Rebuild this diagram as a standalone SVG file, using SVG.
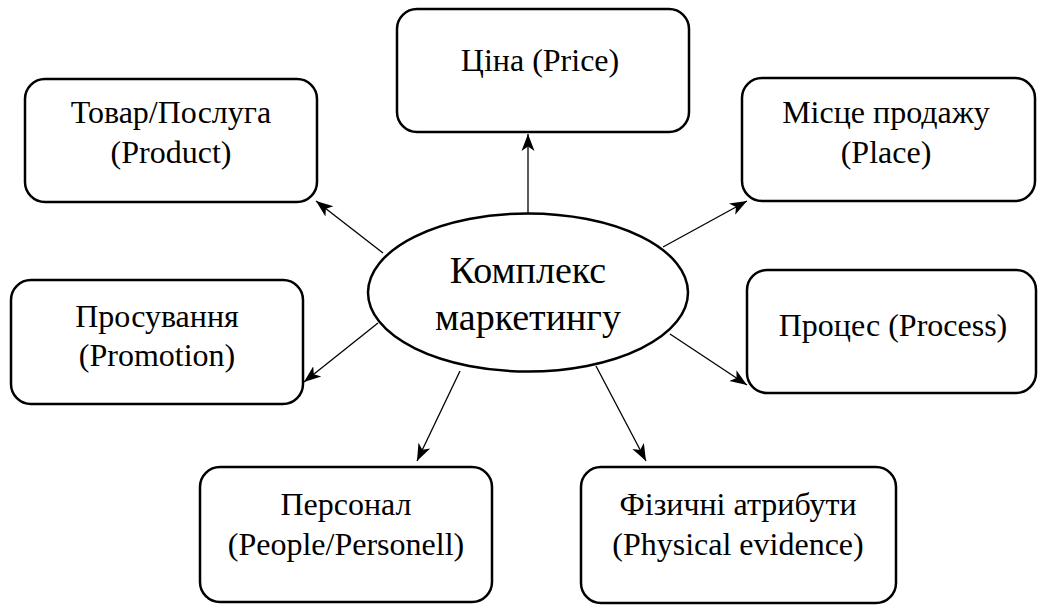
<svg xmlns="http://www.w3.org/2000/svg" width="1039" height="605" viewBox="0 0 1039 605">
<defs>
<marker id="ah" markerUnits="userSpaceOnUse" markerWidth="18" markerHeight="16" viewBox="0 0 18 16" refX="17" refY="8" orient="auto">
<path d="M0,1.5 L17,8 L0,14.5 L4.5,8 Z" fill="#000"/>
</marker>
</defs>
<rect width="1039" height="605" fill="#fff"/>
<g id="connectors" stroke="#000" stroke-width="1.3" fill="none" marker-end="url(#ah)">
<line x1="528" y1="213" x2="528" y2="134"/>
<line x1="383" y1="253" x2="316" y2="201"/>
<line x1="663" y1="247" x2="747" y2="201"/>
<line x1="378" y1="323" x2="304" y2="382"/>
<line x1="670" y1="334" x2="747" y2="385"/>
<line x1="460" y1="371" x2="417" y2="461"/>
<line x1="596" y1="366" x2="646" y2="461"/>
</g>
<g id="nodes" font-family="Liberation Serif" text-anchor="middle" fill="#000">
<g id="center">
<ellipse cx="528" cy="292.5" rx="160" ry="79" fill="#fff" stroke="#000" stroke-width="2.5"/>
<text x="528" y="283" font-size="38">Комплекс</text>
<text x="528" y="330" font-size="38">маркетингу</text>
</g>
<g font-size="32">
<g id="price">
<rect x="397" y="9" width="292" height="123" rx="20" fill="#fff" stroke="#000" stroke-width="2.5"/>
<text x="540" y="71">Ціна (Price)</text>
</g>
<g id="product">
<rect x="25" y="79" width="292" height="123" rx="20" fill="#fff" stroke="#000" stroke-width="2.5"/>
<text x="171" y="123">Товар/Послуга</text>
<text x="171" y="163">(Product)</text>
</g>
<g id="place">
<rect x="742" y="78" width="293" height="123" rx="20" fill="#fff" stroke="#000" stroke-width="2.5"/>
<text x="886" y="123">Місце продажу</text>
<text x="886" y="163">(Place)</text>
</g>
<g id="promotion">
<rect x="11" y="280" width="292" height="124" rx="20" fill="#fff" stroke="#000" stroke-width="2.5"/>
<text x="157" y="327">Просування</text>
<text x="157" y="366">(Promotion)</text>
</g>
<g id="process">
<rect x="747" y="270" width="289" height="123" rx="20" fill="#fff" stroke="#000" stroke-width="2.5"/>
<text x="893" y="336">Процес (Process)</text>
</g>
<g id="people">
<rect x="200" y="467" width="292" height="135" rx="20" fill="#fff" stroke="#000" stroke-width="2.5"/>
<text x="346" y="515">Персонал</text>
<text x="346" y="555">(People/Personell)</text>
</g>
<g id="physical">
<rect x="581" y="467" width="315" height="136" rx="20" fill="#fff" stroke="#000" stroke-width="2.5"/>
<text x="738" y="515">Фізичні атрибути</text>
<text x="738" y="555">(Physical evidence)</text>
</g>
</g>
</g>
</svg>
